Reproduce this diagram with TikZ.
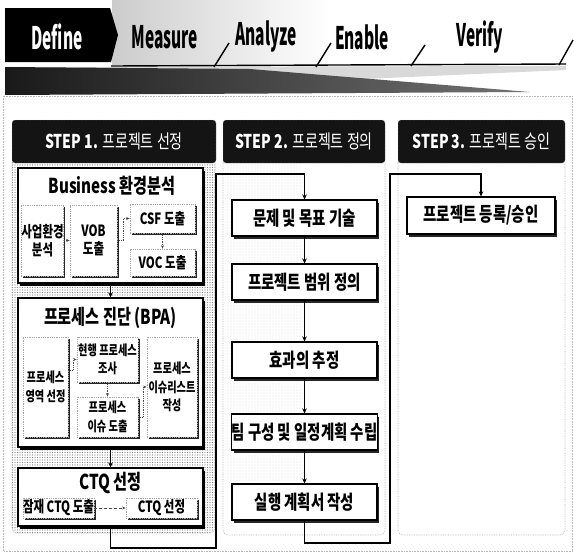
\documentclass[tikz,border=0pt]{standalone}
\usepackage{fontspec}
\setmainfont{Noto Sans CJK KR}[FakeStretch=0.74]
\newfontfamily\phasefont{Noto Sans CJK KR}[FakeStretch=0.5]
\usetikzlibrary{arrows.meta,shadows,patterns.meta}
\begin{document}
\begin{tikzpicture}[x=1pt,y=-1pt,
  bigbox/.style={draw=black, line width=1.1pt, fill=white, minimum width=185pt, inner sep=0pt,
     drop shadow={shadow xshift=2pt, shadow yshift=-2.5pt, fill=black, opacity=1}},
  inbox/.style={draw=gray!70, densely dotted, line width=0.8pt, fill=white, inner sep=0pt,
     align=center, font=\bfseries\fontsize{15.5}{18}\selectfont,
     drop shadow={shadow xshift=1.6pt, shadow yshift=-2pt, fill=black!85, opacity=1}},
  bpain/.style={inbox, font=\bfseries\fontsize{13.8}{18.5}\selectfont},
  flowbox/.style={draw=black, line width=1.1pt, fill=white, minimum height=36pt, inner sep=0pt,
     font=\bfseries\fontsize{19.5}{22}\selectfont,
     drop shadow={shadow xshift=2pt, shadow yshift=-3pt, fill=black!85, opacity=1}},
  titletext/.style={font=\bfseries\fontsize{20.5}{24}\selectfont, inner sep=0pt},
  panel/.style={draw=gray!60, densely dotted, line width=0.7pt, rounded corners=5pt},
  stephead/.style={fill=black!92, draw=gray!50, densely dotted, rounded corners=3pt, text=white,
     minimum height=43pt, inner sep=0pt, font=\fontsize{19}{22}\selectfont},
  phase/.style={font=\phasefont\bfseries\fontsize{31}{33}\selectfont, inner sep=0pt},
  link/.style={line width=1.2pt, -{Stealth[length=5pt,width=4.5pt]}},
  subl/.style={draw=gray!60!black, densely dotted, line width=0.8pt, -{Stealth[length=3.5pt,width=3pt]}},
]
\useasboundingbox (0,0) rectangle (574,555);
\fill[white] (0,0) rectangle (574,555);

% ---------- phase band ----------
\shade[left color=gray!40, right color=white] (112,0) rectangle (330,64);
\fill[gray!30] (5,67) -- (566,66) -- (566,70) -- (5,95) -- cycle;
\shade[left color=black!90, right color=black!55] (5,67) -- (250,69) -- (530,92) -- (5,95) -- cycle;
\fill[black] (5,8) -- (110,8) -- (118,35) -- (111,62) -- (5,62) -- cycle;
\draw[line width=1.4pt] (111,66) -- (566,64);
\draw[line width=1.4pt] (214,67) -- (229,43);
\draw[line width=1.4pt] (316,67) -- (331,43);
\draw[line width=1.4pt] (411,66) -- (425,45);
\draw[line width=1.4pt] (559,65) -- (573,40);
\node[phase, text=white] (def) at (57,37) {Define};
\node[phase] (mea) at (165,37) {Measure};
\node[phase] (ana) at (266,37) {Analyze};
\node[phase] (ena) at (362,37) {Enable};
\node[phase] (ver) at (480,37) {Verify};

% ---------- frames and panels ----------
\draw[gray!55, densely dotted, line width=0.6pt] (3,96) rectangle (572,551);
\path[panel, pattern={Dots[radius=0.65pt,distance=2.5pt]}, pattern color=gray] (12,158) rectangle (215,533);
\path[pattern={Dots[radius=0.45pt,distance=3pt]}, pattern color=gray!60] (225,164) rectangle (300,480);
\path[panel] (223,158) rectangle (385,535);
\path[panel] (398,158) rectangle (565,535);

\node[stephead, minimum width=204pt] (h1) at (114,141.5) {\textbf{STEP 1.} 프로젝트 선정};
\node[stephead, minimum width=162pt] (h2) at (304,141.5) {\textbf{STEP 2.} 프로젝트 정의};
\node[stephead, minimum width=167pt] (h3) at (481.5,141.5) {\textbf{STEP 3.} 프로젝트 승인};

% ---------- STEP 1 ----------
\node[bigbox, minimum height=115pt] (bus) at (110.5,225.5) {};
\node[titletext] (bust) at (112,186) {Business 환경분석};
\node[inbox, minimum width=41pt, minimum height=71pt] (n11) at (42.5,240.5) {사업환경\\분석};
\node[inbox, minimum width=47pt, minimum height=71pt] (n12) at (93.5,240.5) {VOB\\도출};
\node[inbox, minimum width=65pt, minimum height=29pt] (n13) at (162.5,218.5) {CSF 도출};
\node[inbox, minimum width=65pt, minimum height=27pt] (n14) at (162.5,262.5) {VOC 도출};
\draw[subl] (n11) -- (n12);
\draw[subl] (n12.east) -- ++(6,0) |- (n13.west);
\draw[subl] (n13) -- (n14);

\node[bigbox, minimum height=149pt] (bpa) at (110.5,372.5) {};
\node[titletext] (bpat) at (110.5,318) {프로세스 진단 (BPA)};
\node[bpain, minimum width=45pt, minimum height=100pt] (n21) at (45.5,387) {프로세스\\영역 선정};
\node[bpain, minimum width=61pt, minimum height=45pt] (n22) at (107.5,359.5) {현행 프로세스\\조사};
\node[bpain, minimum width=61pt, minimum height=40pt] (n23) at (107.5,417) {프로세스\\이슈 도출};
\node[bpain, minimum width=50pt, minimum height=100pt] (n24) at (172,387) {프로세스\\이슈리스트\\작성};
\draw[subl] (n21.east) ++(0,-17) -- ++(5,0) |- (n22.west);
\draw[subl] (n22) -- (n23);
\draw[subl] (n23.east) -- ++(5,0) |- (n24.west);

\node[bigbox, minimum height=58pt] (ctq) at (110.5,497) {};
\node[titletext] (ctqt) at (110.5,483) {CTQ 선정};
\node[inbox, minimum width=71pt, minimum height=20pt] (n31) at (58.5,508) {잠재 CTQ 도출};
\node[inbox, minimum width=71pt, minimum height=20pt] (n32) at (161.5,508) {CTQ 선정};
\draw[subl, densely dashed] (n31) -- (n32);

\draw[link] (bus) -- (bpa);
\draw[link] (bpa) -- (ctq);

% ---------- STEP 2 ----------
\node[flowbox, minimum width=145pt] (s1) at (304.5,218) {문제 및 목표 기술};
\node[flowbox, minimum width=145pt] (s2) at (304.5,282) {프로젝트 범위 정의};
\node[flowbox, minimum width=145pt] (s3) at (304.5,360) {효과의 추정};
\node[flowbox, minimum width=145pt] (s4) at (304.5,432) {팀 구성 및 일정계획 수립};
\node[flowbox, minimum width=145pt] (s5) at (304.5,502) {실행 계획서 작성};
\draw[link] (s1) -- (s2);
\draw[link] (s2) -- (s3);
\draw[link] (s3) -- (s4);
\draw[link] (s4) -- (s5);

% ---------- STEP 3 ----------
\node[flowbox, minimum width=148pt, minimum height=37pt] (r1) at (481,215.5) {프로젝트 등록/승인};

% ---------- cross connectors ----------
\draw[link] (ctq.south) |- (216,548) -- (216,174) -| (s1.north);
\draw[link] (s5.south) |- (390,543) -- (390,174) -| (r1.north);
\end{tikzpicture}
\end{document}
